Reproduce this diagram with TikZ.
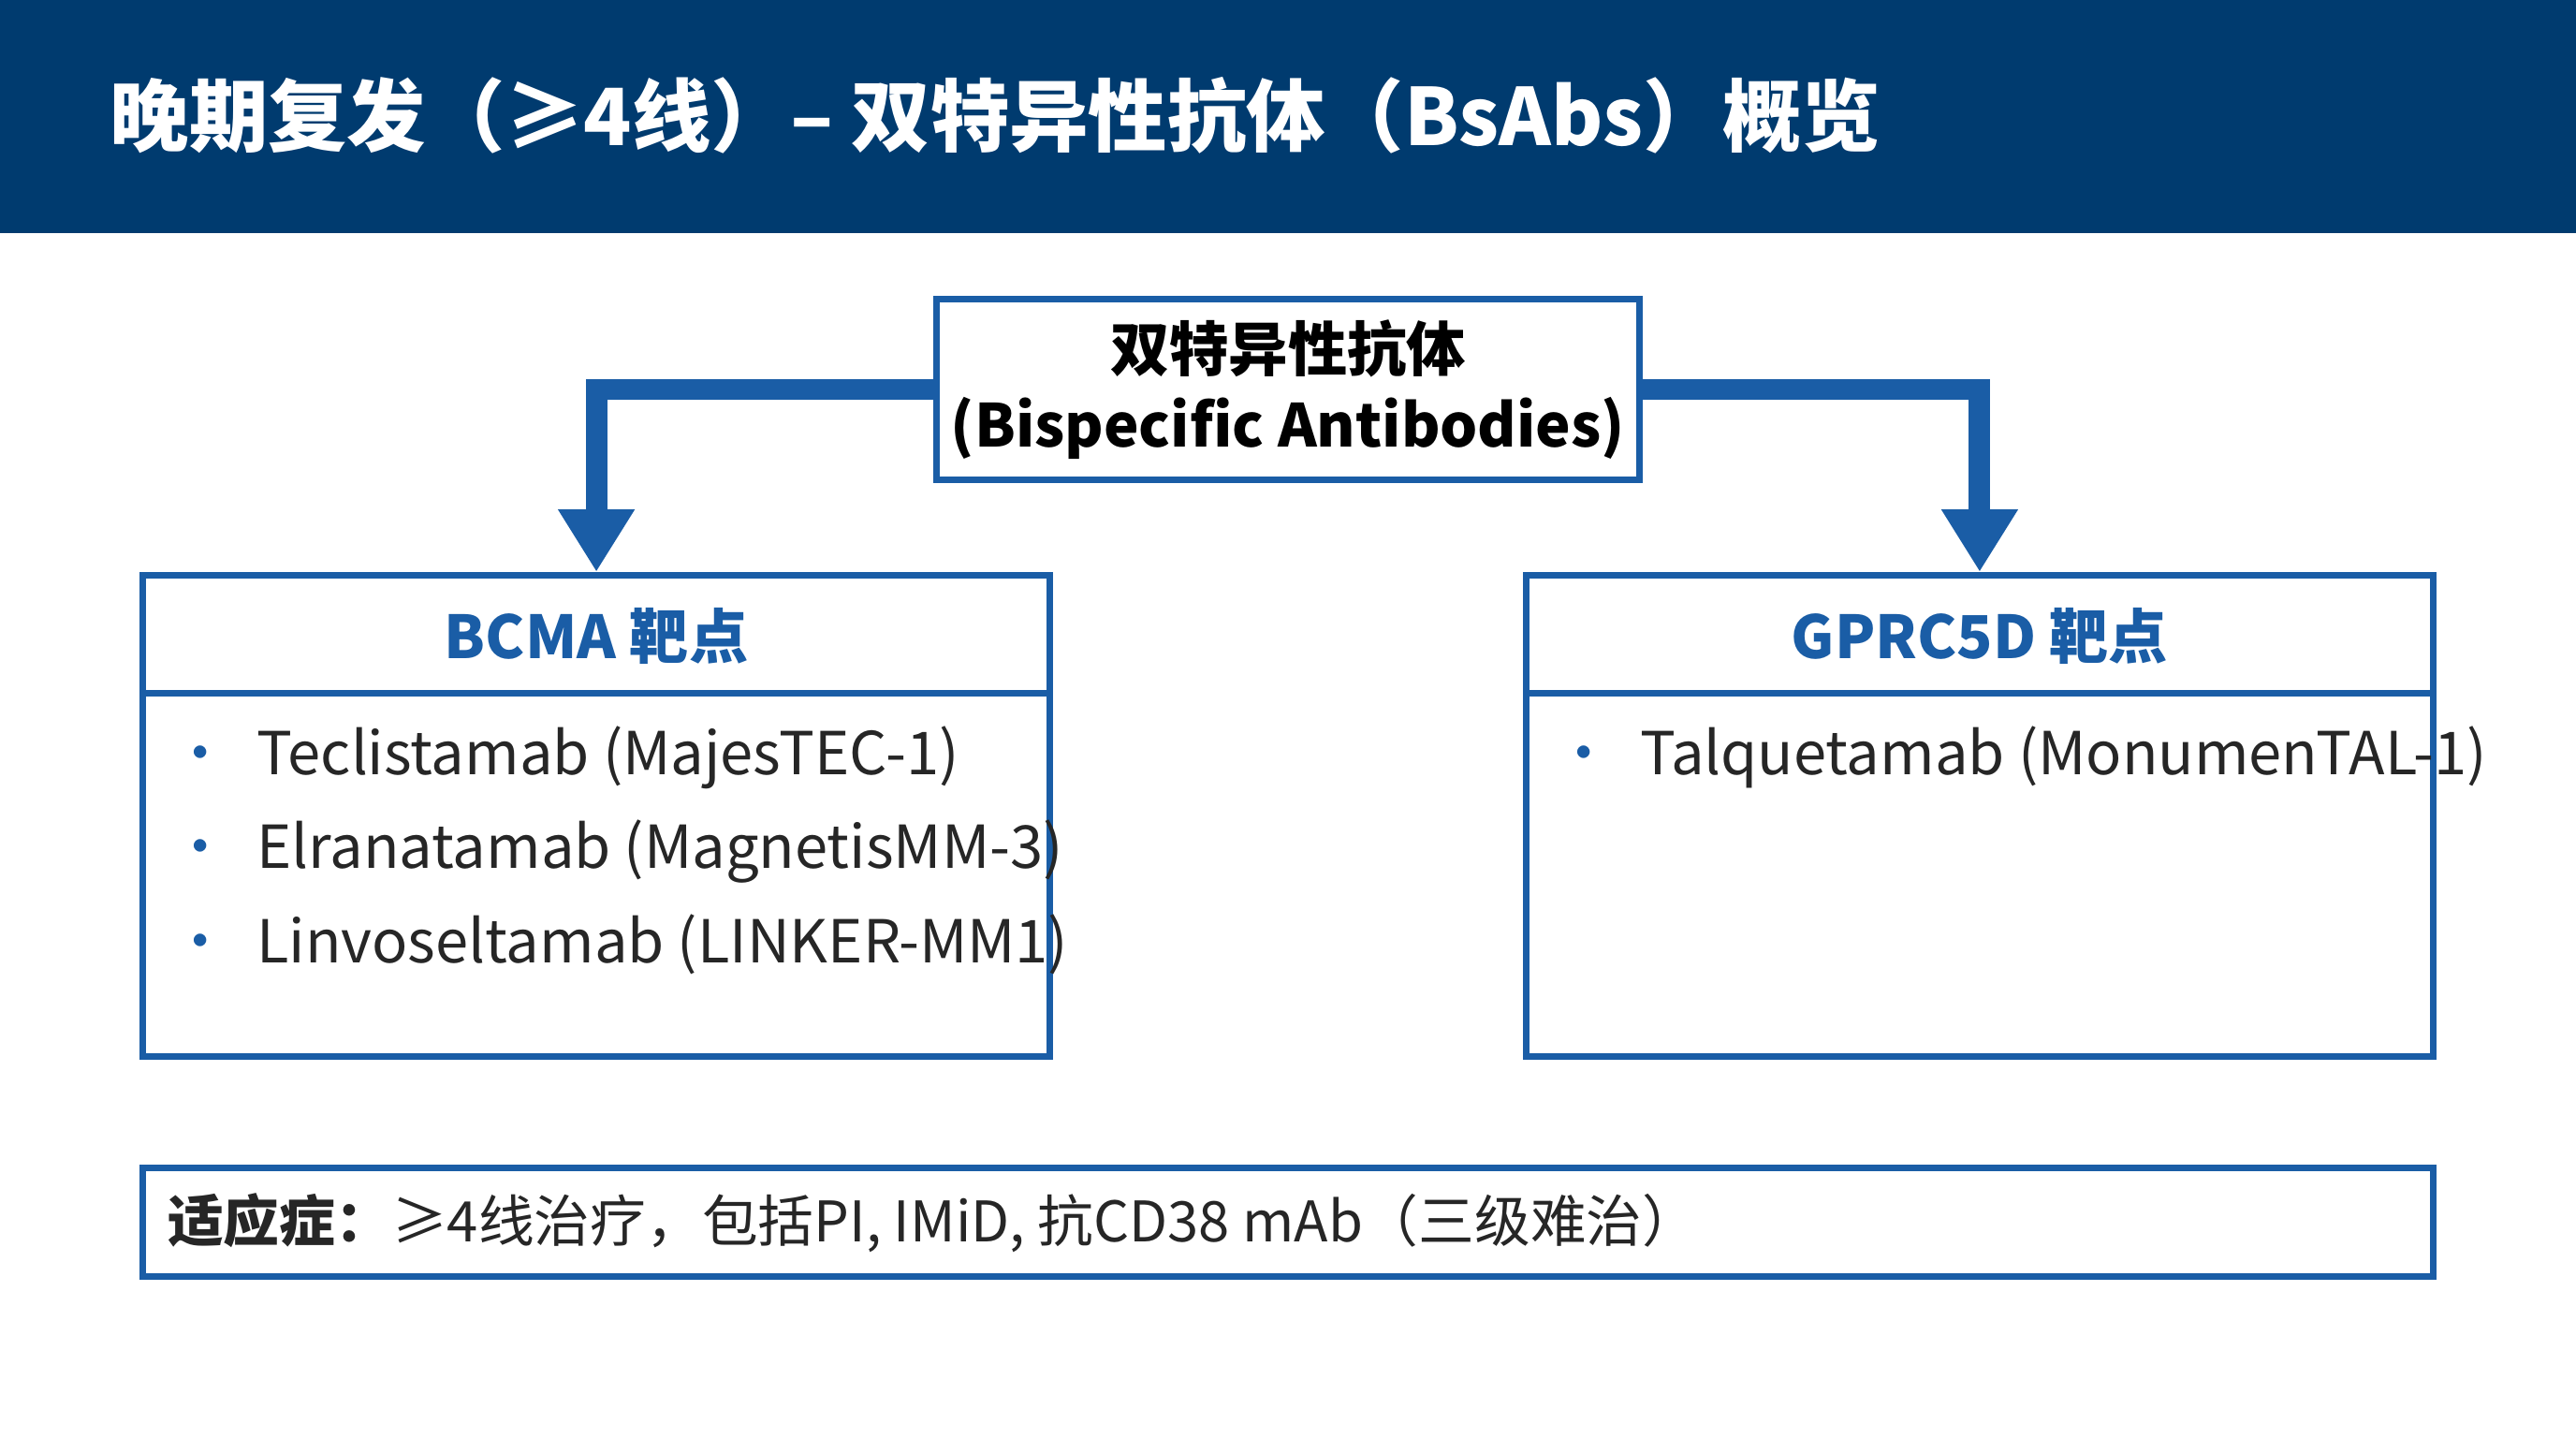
\documentclass[tikz,border=0pt]{standalone}
\usepackage{fontspec}
\setmainfont{Noto Sans CJK SC}
\usetikzlibrary{arrows.meta}
\definecolor{hdr}{HTML}{003B6F}
\definecolor{bl}{HTML}{1A5DA6}
\begin{document}
\begin{tikzpicture}[x=0.017551cm,y=0.017551cm,
  box/.style={draw=bl,line width=2pt,fill=white,inner sep=0pt},
  item/.style={anchor=west,font=\fontsize{18}{20}\selectfont,text=black!85},
  conn/.style={draw=bl,line width=6.5pt,-{Triangle[width=22pt,length=19pt]}}]
\useasboundingbox (0,0) rectangle (1568,-875);
\fill[white] (0,0) rectangle (1568,-875);
\fill[hdr] (0,0) rectangle (1568,-142);
\node[anchor=west,text=white,font=\bfseries\fontsize{24}{28}\selectfont] (title) at (60,-70) {晚期复发（≥4线）– 双特异性抗体（BsAbs）概览};
\node[box,minimum width=7.51cm,minimum height=1.93cm,align=center,font=\bfseries\fontsize{18}{23}\selectfont] (top) at (784,-237) {双特异性抗体\\(Bispecific Antibodies)};
\node[box,minimum width=9.69cm,minimum height=5.14cm] (left) at (363,-496.5) {};
\node[box,minimum width=9.69cm,minimum height=5.14cm] (right) at (1205,-496.5) {};
\draw[bl,line width=2pt] (87,-422) coordinate (l1) -- (639,-422) coordinate (l2);
\draw[bl,line width=2pt] (929,-422) coordinate (r1) -- (1481,-422) coordinate (r2);
\node[text=bl,font=\bfseries\fontsize{18}{20}\selectfont] (lt) at (363,-387) {BCMA 靶点};
\node[text=bl,font=\bfseries\fontsize{18}{20}\selectfont] (rt) at (1205,-387) {GPRC5D 靶点};
\node[item] (a1) at (97,-461) {\textcolor{bl}{•}\hspace{0.45em}Teclistamab (MajesTEC-1)};
\node[item] (a2) at (97,-518) {\textcolor{bl}{•}\hspace{0.45em}Elranatamab (MagnetisMM-3)};
\node[item] (a3) at (97,-575) {\textcolor{bl}{•}\hspace{0.45em}Linvoseltamab (LINKER-MM1)};
\node[item] (b1) at (939,-461) {\textcolor{bl}{•}\hspace{0.45em}Talquetamab (MonumenTAL-1)};
\node[box,minimum width=24.47cm,minimum height=1.16cm] (bot) at (784,-744) {};
\node[anchor=west,font=\fontsize{17}{20}\selectfont,text=black!85] (bt) at (95,-744) {\textbf{适应症：}≥4线治疗，包括PI, IMiD, 抗CD38 mAb（三级难治）};
\draw[conn] (top.west) -| (left.north);
\draw[conn] (top.east) -| (right.north);
\end{tikzpicture}
\end{document}
